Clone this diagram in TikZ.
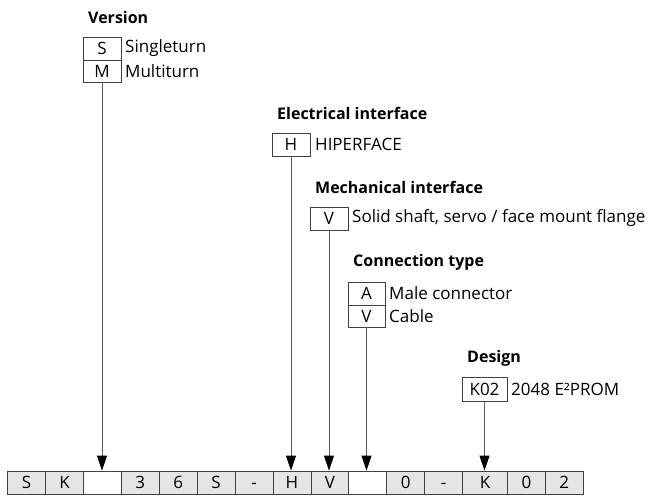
\documentclass[tikz,border=0pt]{standalone}
\usepackage{fontspec}
\setmainfont{Open Sans}
\usetikzlibrary{arrows.meta}
\begin{document}
\begin{tikzpicture}[x=1pt,y=-1pt,
  lab/.style={anchor=west,inner sep=0pt,font=\fontsize{17}{17}\selectfont},
  head/.style={anchor=west,inner sep=0pt,font=\fontsize{16}{16}\selectfont\bfseries},
  codebox/.style={draw=black!75,line width=0.8pt,minimum height=23pt,inner sep=0pt,
    text height=12.2pt,text depth=0pt,font=\fontsize{17}{17}\selectfont},
  cell/.style={codebox,anchor=west,fill=black!10},
  blank/.style={codebox,anchor=west,fill=white},
  conn/.style={draw=black!65,line width=0.9pt,-{Triangle[length=15pt,width=10pt,color=black]}}]
\useasboundingbox (0,0) rectangle (650,496);
% bottom code row
\node[cell,minimum width=37.9pt] (c1) at (7.3,482.5) {S};
\node[cell,minimum width=37.9pt] (c2) at (45.2,482.5) {K};
\node[blank,minimum width=37.9pt] (c3) at (83.1,482.5) {};
\node[cell,minimum width=37.9pt] (c4) at (121,482.5) {3};
\node[cell,minimum width=37.9pt] (c5) at (158.9,482.5) {6};
\node[cell,minimum width=37.9pt] (c6) at (196.8,482.5) {S};
\node[cell,minimum width=37.9pt] (c7) at (234.7,482.5) {-};
\node[cell,minimum width=37.9pt] (c8) at (272.6,482.5) {H};
\node[cell,minimum width=37.9pt] (c9) at (310.5,482.5) {V};
\node[blank,minimum width=37.9pt] (c10) at (348.4,482.5) {};
\node[cell,minimum width=37.9pt] (c11) at (386.3,482.5) {0};
\node[cell,minimum width=37.9pt] (c12) at (424.2,482.5) {-};
\node[cell,minimum width=45pt] (c13) at (462.1,482.5) {K};
\node[cell,minimum width=37.9pt] (c14) at (507.1,482.5) {0};
\node[cell,minimum width=37.9pt] (c15) at (545,482.5) {2};
% Version
\node[head] (hv) at (88,17) {Version};
\node[codebox,minimum width=38pt] (vs) at (102,48.5) {S};
\node[codebox,minimum width=38pt,minimum height=22pt] (vm) at (102,71) {M};
\node[lab] (ls) at (125,48.5) {Singleturn};
\node[lab] (lm) at (125,71) {Multiturn};
% Electrical interface
\node[head] (he) at (277,113) {Electrical interface};
\node[codebox,minimum width=38pt] (eh) at (291,144.5) {H};
\node[lab] (lh) at (315,144.5) {HIPERFACE};
% Mechanical interface
\node[head] (hm) at (315,187) {Mechanical interface};
\node[codebox,minimum width=38pt] (mv) at (329,218.5) {V};
\node[lab] (lmv) at (352,218.5) {Solid shaft, servo / face mount flange};
% Connection type
\node[head] (hc) at (353,262) {Connection type};
\node[codebox,minimum width=37pt] (ca) at (366.5,293.5) {A};
\node[codebox,minimum width=37pt,minimum height=22pt] (cv) at (366.5,316) {V};
\node[lab] (la) at (389,293.5) {Male connector};
\node[lab] (lv) at (389,316) {Cable};
% Design
\node[head] (hd) at (467,358) {Design};
\node[codebox,minimum width=45pt,minimum height=24pt] (dk) at (484.5,389.5) {K02};
\node[lab] (lk) at (511,389.5) {2048 E²PROM};
% connectors
\draw[conn] (vm.south) -- (vm.south |- c3.north);
\draw[conn] (eh.south) -- (eh.south |- c8.north);
\draw[conn] (mv.south) -- (mv.south |- c9.north);
\draw[conn] (cv.south) -- (cv.south |- c10.north);
\draw[conn] (dk.south) -- (dk.south |- c13.north);
\end{tikzpicture}
\end{document}
